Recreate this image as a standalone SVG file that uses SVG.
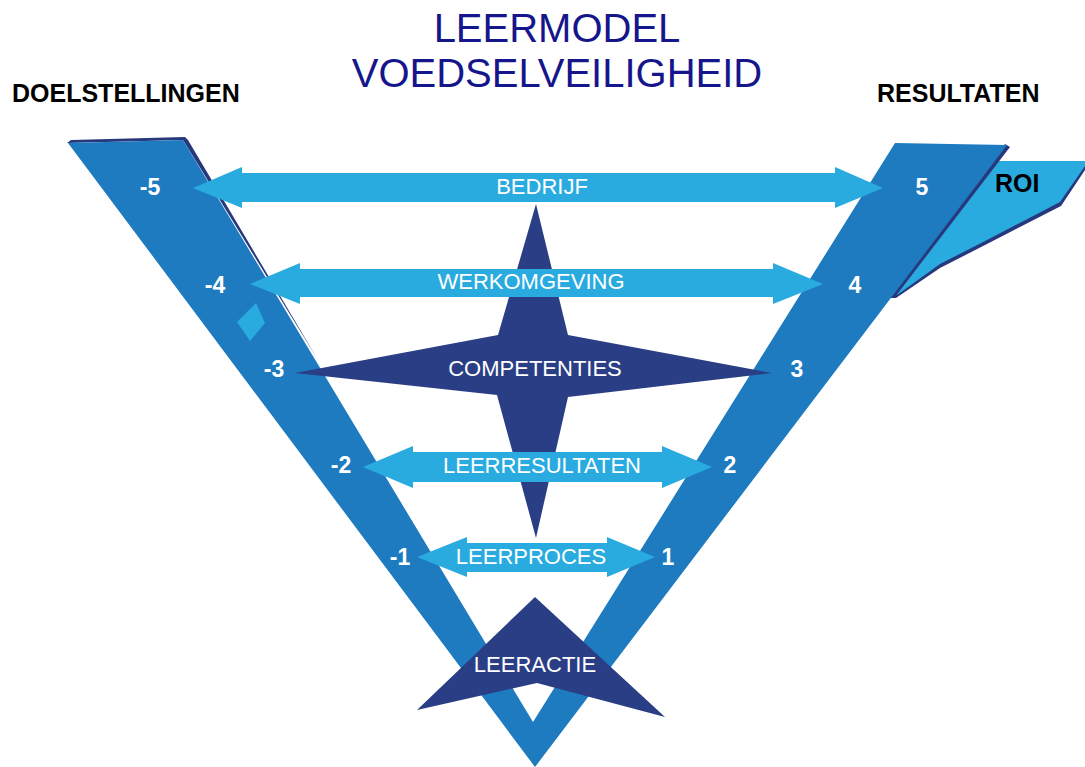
<svg xmlns="http://www.w3.org/2000/svg" width="1085" height="767" viewBox="0 0 1085 767">
<style>
.arm{fill:#1e7bc0}
.shadow{fill:#27397c}
.light{fill:#29abe0}
.navy{fill:#2a3e85}
.title{font-family:"Liberation Sans",Arial,sans-serif;font-size:40px;fill:#16168c;text-anchor:middle}
.head{font-family:"Liberation Sans",Arial,sans-serif;font-size:25px;font-weight:bold;fill:#000}
.lbl{font-family:"Liberation Sans",Arial,sans-serif;font-size:22px;fill:#fff;text-anchor:middle}
.num{font-family:"Liberation Sans",Arial,sans-serif;font-size:23px;font-weight:bold;fill:#fff;text-anchor:middle}
</style>
<rect width="1085" height="767" fill="#fff"/>
<g id="title">
<text class="title" x="557" y="42">LEERMODEL</text>
<text class="title" x="557" y="87">VOEDSELVEILIGHEID</text>
</g>
<g id="doelstellingen"><text class="head" x="12" y="102">DOELSTELLINGEN</text></g>
<g id="resultaten"><text class="head" x="877" y="102">RESULTATEN</text></g>
<g id="roi">
<polygon class="shadow" points="985,165 1085,165 1085,170 1061,206 987,244 940,268 896,298 880,298"/>
<polygon class="light" points="985,161 1085,161 1085,166 1060,202 987,240 940,264 897,295 880,295"/>
</g>
<g id="v-shape">
<polygon class="shadow" points="67,143 71,140 185,137 188,140 318,360 183,140"/>
<polygon class="shadow" points="1005,144 1010,147 895,297 891,296"/>
<polygon class="arm" points="68,143 183,140 533,722 895,143 1007,145 535,767"/>
<polygon class="light" points="256,303 265,323 250,341 237,322"/>
</g>
<g id="competenties">
<polygon class="navy" points="536,204 568,335 772,373 568,397 536,538 497,395 295,373 498,335"/>
</g>
<g id="connectors">
<polygon class="light" points="193,188 242,167 242,173 835,173 835,167 883,188 835,208 835,202 242,202 242,208"/>
<polygon class="light" points="250,284 300,263 300,269 773,269 773,263 823,284 773,304 773,297 300,297 300,304"/>
<polygon class="light" points="363,467 413,446 413,452 662,452 662,446 712,467 662,488 662,482 413,482 413,488"/>
<polygon class="light" points="417,557 467,537 467,543 607,543 607,537 655,557 607,577 607,572 467,572 467,577"/>
</g>
<g id="leeractie">
<polygon class="navy" points="535,597 665,717 537,683 417,710"/>
<text class="lbl" x="535" y="672">LEERACTIE</text>
</g>
<g id="labels">
<text class="lbl" x="542" y="194">BEDRIJF</text>
<text class="lbl" x="531" y="289">WERKOMGEVING</text>
<text class="lbl" x="535" y="376">COMPETENTIES</text>
<text class="lbl" x="542" y="473">LEERRESULTATEN</text>
<text class="lbl" x="531" y="564">LEERPROCES</text>
</g>
<g id="numbers">
<text class="num" x="150" y="195">-5</text>
<text class="num" x="215" y="293">-4</text>
<text class="num" x="274" y="377">-3</text>
<text class="num" x="341" y="473">-2</text>
<text class="num" x="400" y="565">-1</text>
<text class="num" x="922" y="195">5</text>
<text class="num" x="855" y="293">4</text>
<text class="num" x="797" y="377">3</text>
<text class="num" x="730" y="473">2</text>
<text class="num" x="668" y="565">1</text>
</g>
<g id="roi-label"><text class="head" x="995" y="192">ROI</text></g>
</svg>
